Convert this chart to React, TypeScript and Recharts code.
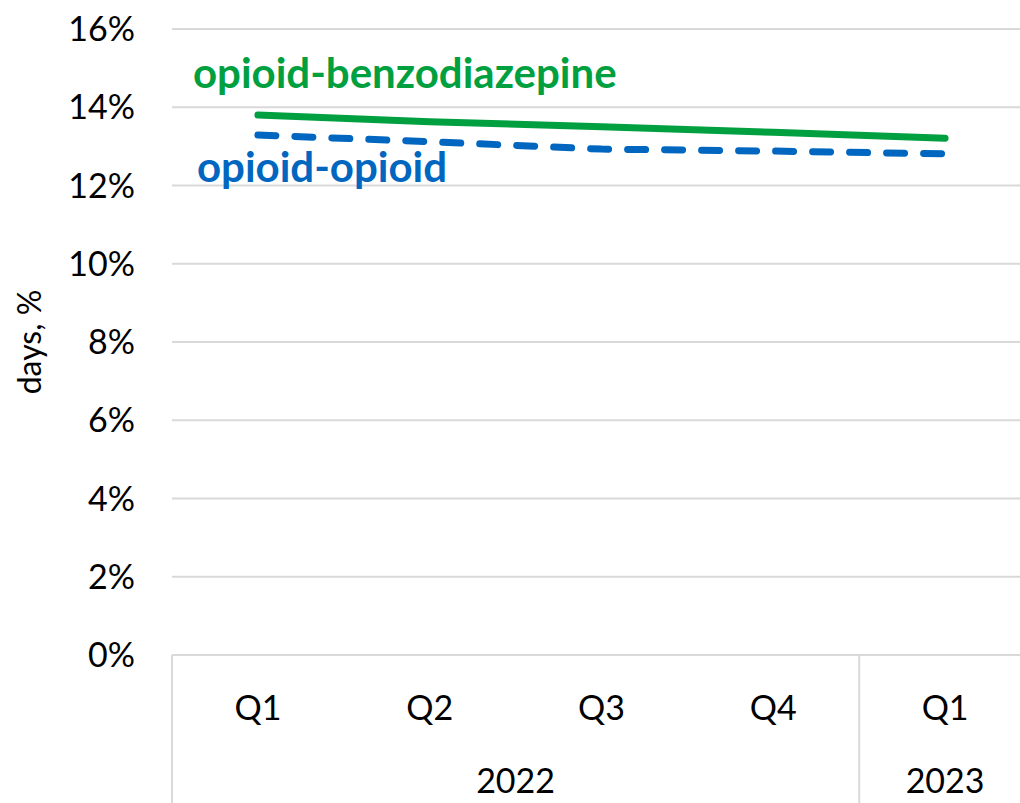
import React from "react";
import { LineChart, Line, XAxis, YAxis, CartesianGrid, LabelList } from "recharts";

const quarters = ["Q1", "Q2", "Q3", "Q4", "Q1"];
const yearLabels = ["2022", "2023"];
const benzo = [13.8, 13.63, 13.5, 13.36, 13.21];
const opioid = [13.29, 13.12, 12.93, 12.88, 12.81];
const yTicks = [0, 2, 4, 6, 8, 10, 12, 14, 16];

const data = quarters.map((q, i) => ({ key: `k${i}`, q, benzo: benzo[i], opioid: opioid[i] }));

const FONT = "Lato, 'Open Sans', sans-serif";
const GREEN = "#00A040";
const BLUE = "#0066C0";
const GRID = "#D9D9D9";

const CHART_W = 1040;
const CHART_H = 803;
const MARGIN = { top: 29, right: 9, bottom: 0, left: 0 };
const Y_W = 172;
const X_H = 148;
const PLOT_W = CHART_W - MARGIN.left - MARGIN.right - Y_W;
const STEP = PLOT_W / quarters.length;

const CatTick = (props: any) => {
  const { x, y, index } = props;
  return (
    <g>
      <text x={x} y={y + 65} textAnchor="middle" fontSize={34} fontFamily={FONT} fill="#000">
        {quarters[index]}
      </text>
      {index === 0 && (
        <>
          <line x1={x - STEP / 2} x2={x - STEP / 2} y1={y} y2={y + X_H} stroke={GRID} strokeWidth={2} />
          <text x={x + 1.5 * STEP} y={y + 138} textAnchor="middle" fontSize={34} fontFamily={FONT} fill="#000">
            {yearLabels[0]}
          </text>
        </>
      )}
      {index === 3 && (
        <line x1={x + STEP / 2} x2={x + STEP / 2} y1={y} y2={y + X_H} stroke={GRID} strokeWidth={2} />
      )}
      {index === 4 && (
        <text x={x} y={y + 138} textAnchor="middle" fontSize={34} fontFamily={FONT} fill="#000">
          {yearLabels[1]}
        </text>
      )}
    </g>
  );
};

const makeLabel = (text: string, color: string, dx: number, dy: number) => (props: any) => {
  const { x, y, index } = props;
  if (index !== 0) return null;
  return (
    <text x={x + dx} y={y + dy} fontSize={42} fontWeight={700} fontFamily={FONT} fill={color}>
      {text}
    </text>
  );
};

export default function App() {
  return (
    <div style={{ position: "absolute", left: 0, top: 0, width: 1020, height: 803, overflow: "hidden", background: "#fff" }}>
      <LineChart width={CHART_W} height={CHART_H} data={data} margin={MARGIN}>
        <CartesianGrid vertical={false} stroke={GRID} strokeWidth={2} />
        <XAxis
          dataKey="key"
          height={X_H}
          padding={{ left: STEP / 2, right: STEP / 2 }}
          tickLine={false}
          tickSize={0}
          tickMargin={0}
          axisLine={{ stroke: GRID, strokeWidth: 2 }}
          tick={<CatTick />}
          interval={0}
        />
        <YAxis
          width={Y_W}
          domain={[0, 16]}
          ticks={yTicks}
          tickFormatter={(v: number) => `${v}%`}
          axisLine={false}
          tickLine={false}
          tickSize={0}
          tickMargin={37}
          tick={{ fontSize: 34, fontFamily: FONT, fill: "#000" }}
          label={{
            value: "days, %",
            angle: -90,
            position: "insideLeft",
            dx: 25,
            style: { fontSize: 32, fontFamily: FONT, fill: "#000", textAnchor: "middle" },
          }}
        />
        <Line
          dataKey="benzo"
          stroke={GREEN}
          strokeWidth={7}
          strokeLinecap="round"
          dot={false}
          activeDot={false}
          isAnimationActive={false}
        >
          <LabelList dataKey="benzo" content={makeLabel("opioid-benzodiazepine", GREEN, -65, -27)} />
        </Line>
        <Line
          dataKey="opioid"
          stroke={BLUE}
          strokeWidth={7}
          strokeLinecap="round"
          strokeDasharray="18 19"
          dot={false}
          activeDot={false}
          isAnimationActive={false}
        >
          <LabelList dataKey="opioid" content={makeLabel("opioid-opioid", BLUE, -61, 47)} />
        </Line>
      </LineChart>
    </div>
  );
}
